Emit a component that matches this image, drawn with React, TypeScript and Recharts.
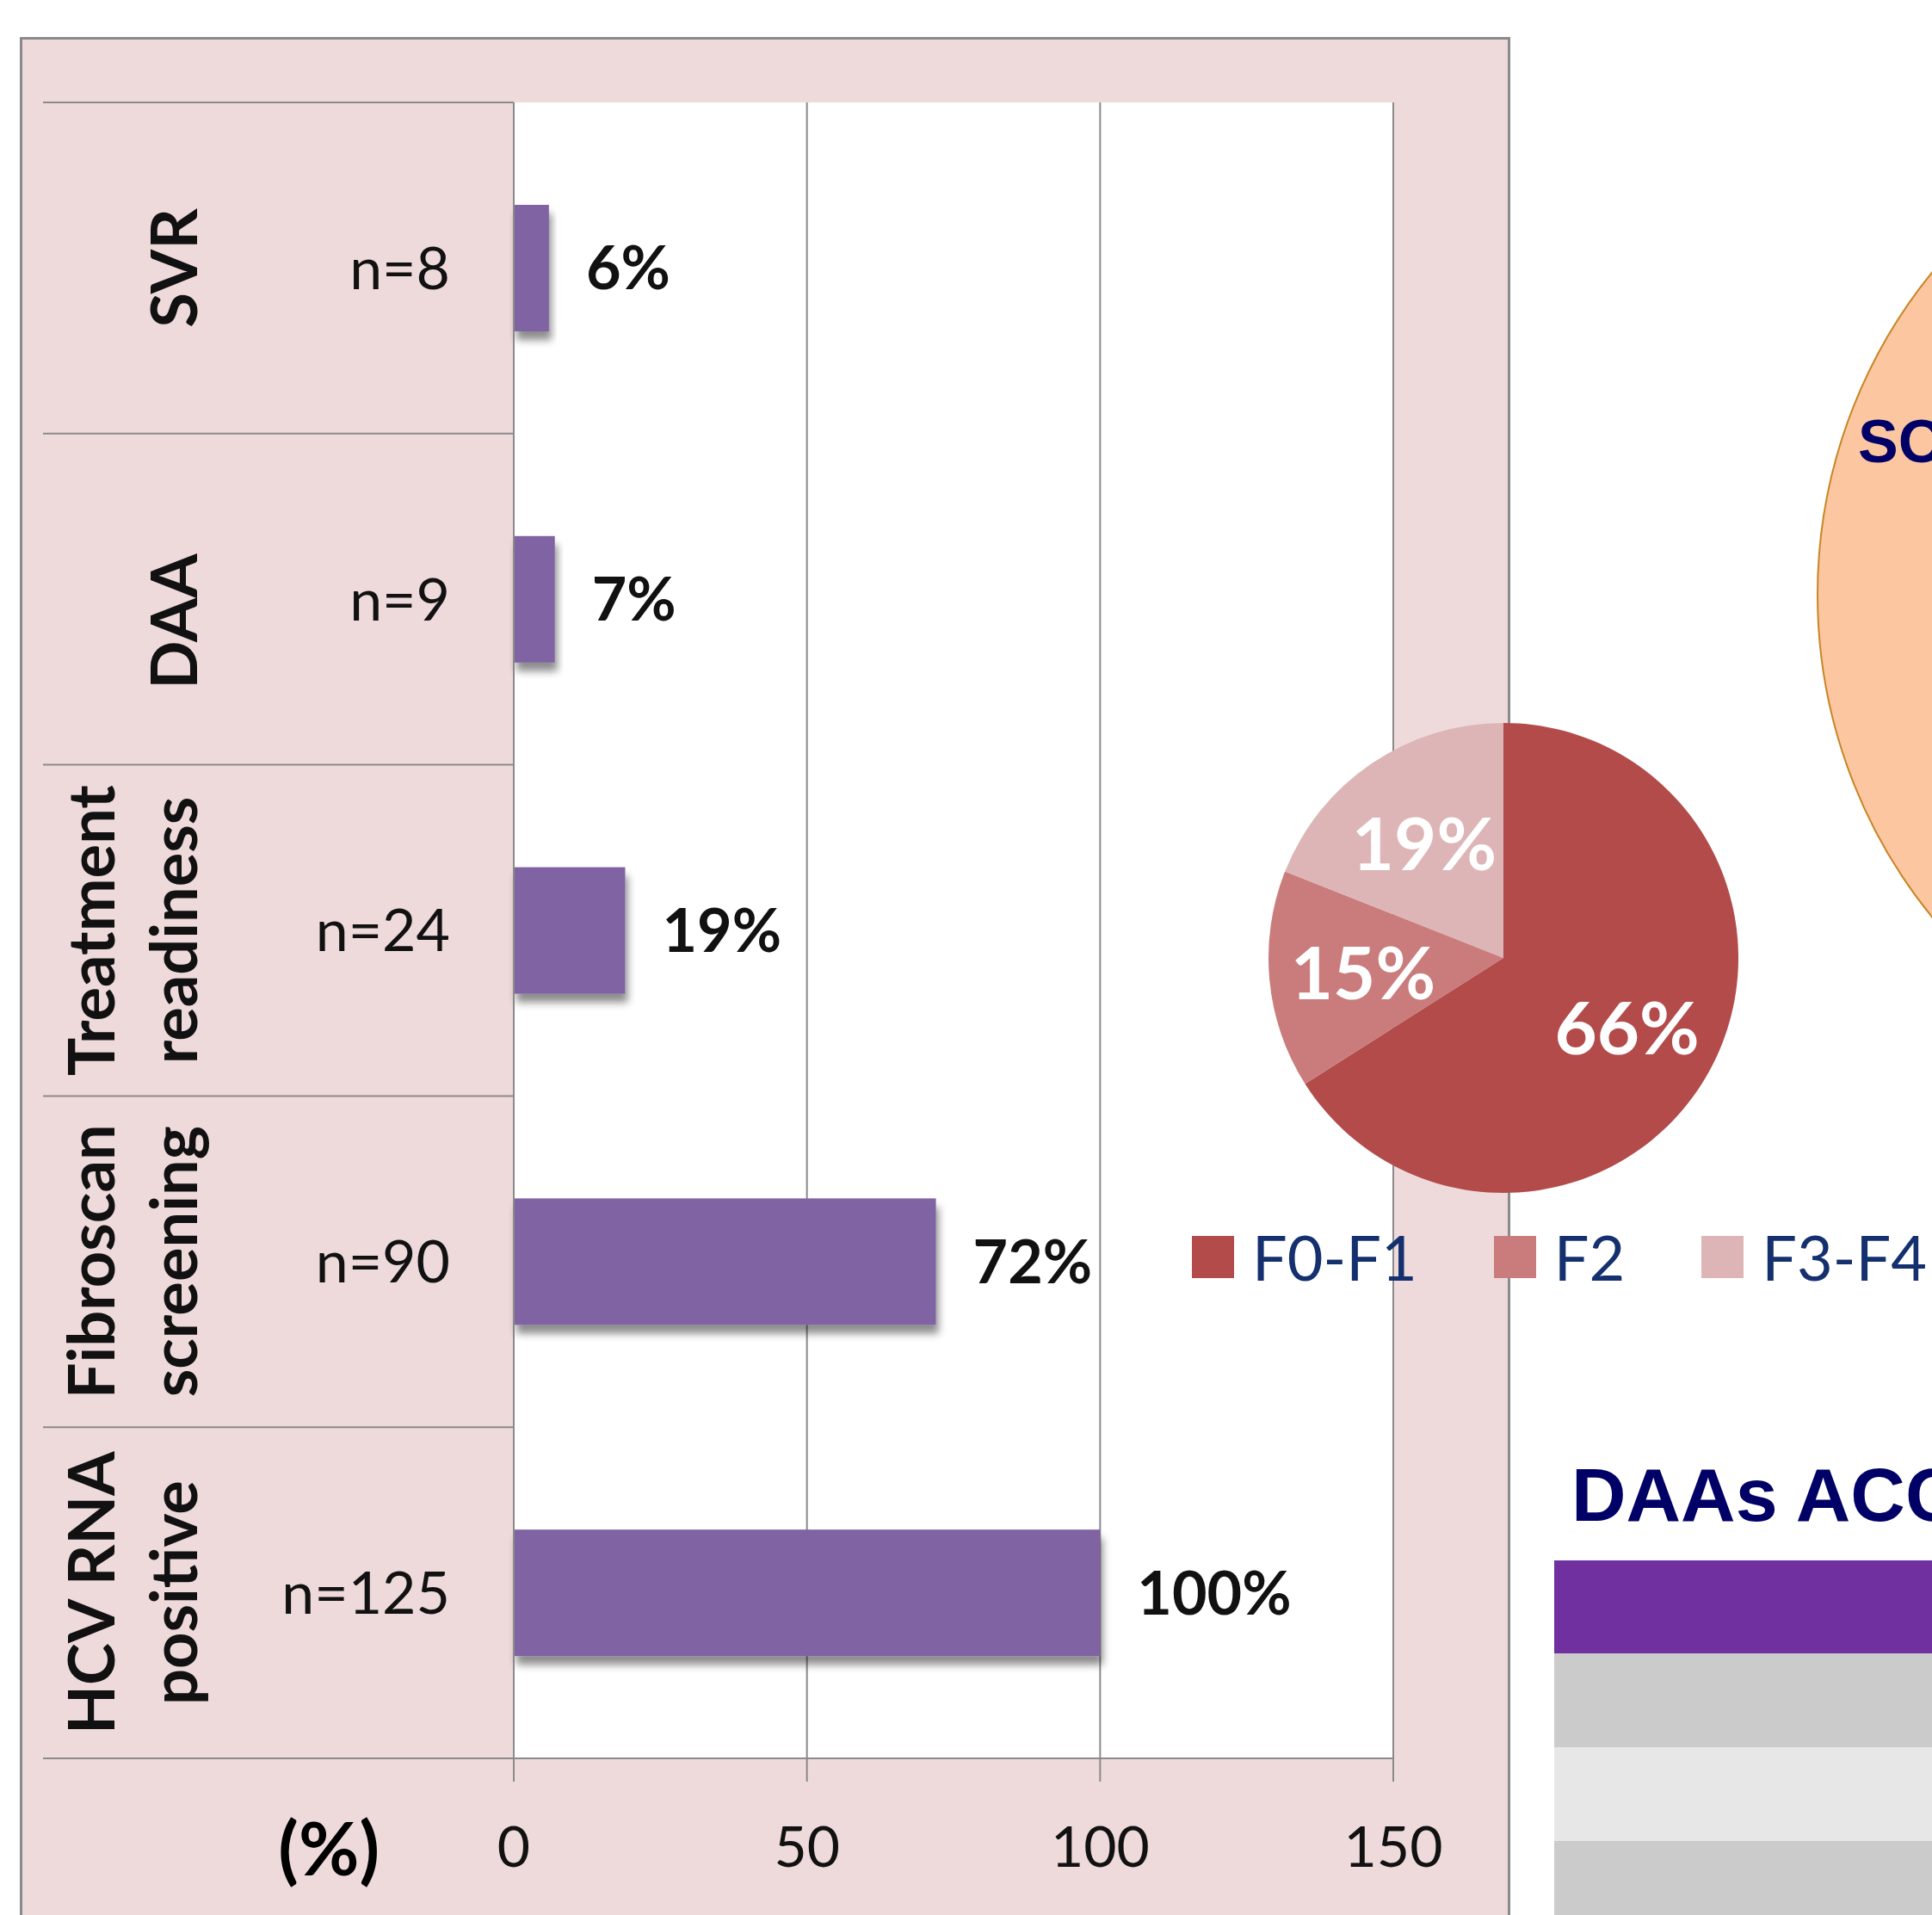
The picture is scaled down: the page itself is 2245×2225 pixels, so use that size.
import {
	Bar,
	BarChart,
	CartesianGrid,
	Cell,
	LabelList,
	Legend,
	Pie,
	PieChart,
	XAxis,
	YAxis,
} from "recharts";

// cascade of care, top to bottom
const stages = ["SVR", "DAA   ", "Treatment\nreadiness", "Fibroscan\nscreening", "HCV RNA\npositive"];
const counts = [8, 9, 24, 90, 125];
const percents = [6, 7, 19, 72, 100];
const xTicks = [0, 50, 100, 150];

// fibrosis split among screened patients
const fibrosisStages = ["F0-F1", "F2", "F3-F4"];
const fibrosisShares = [66, 15, 19];
const fibrosisColors = ["#B24B4A", "#C97C7B", "#DDB5B6"];

const rows = stages.map((name, i) => ({ name, n: counts[i], pct: percents[i] }));
const pieRows = fibrosisStages.map((name, i) => ({ name, value: fibrosisShares[i] }));

const FONT = "Lato, 'Open Sans', sans-serif";
const LINE = "#8A8A8A";
const PLOT_TOP = 119;
const PLOT_BOTTOM = 2043;
const TABLE_LEFT = 50;
const AXIS_X = 597;
const band = (PLOT_BOTTOM - PLOT_TOP) / stages.length;

function StageTick(props: any) {
	const { y, payload } = props;
	const idx = stages.indexOf(payload.value);
	const lines = String(payload.value).split("\n");
	const top = y - band / 2;
	return (
		<g>
			<line x1={TABLE_LEFT} x2={AXIS_X} y1={top} y2={top} stroke={LINE} strokeWidth={2} />
			{idx === stages.length - 1 && (
				<line x1={TABLE_LEFT} x2={AXIS_X} y1={y + band / 2} y2={y + band / 2} stroke={LINE} strokeWidth={2} />
			)}
			{lines.map((line, i) => {
				const bx = 229 - (lines.length - 1 - i) * 96;
				return (
					<text
						key={line}
						x={bx}
						y={y}
						transform={`rotate(-90 ${bx} ${y})`}
						textAnchor="middle"
						fontFamily={FONT}
						fontWeight={700}
						fontSize={74}
						fill="#111"
						style={{ whiteSpace: "pre" }}
					>
						{line}
					</text>
				);
			})}
			<text x={523} y={y} dy="0.36em" textAnchor="end" fontFamily={FONT} fontSize={68} fill="#111">
				n={counts[idx]}
			</text>
		</g>
	);
}

function ShadowBar(props: any) {
	const { x, y, width, height, fill } = props;
	return <rect x={x} y={y} width={width} height={height} fill={fill} filter="url(#barShadow)" />;
}

const RADIAN = Math.PI / 180;
function sliceLabel(props: any) {
	const { cx, cy, midAngle, outerRadius, value } = props;
	const r = outerRadius * 0.6;
	const x = cx + r * Math.cos(-midAngle * RADIAN);
	const y = cy + r * Math.sin(-midAngle * RADIAN);
	return (
		<text
			x={x}
			y={y}
			textAnchor="middle"
			dominantBaseline="central"
			fill="#fff"
			fontFamily={FONT}
			fontWeight={700}
			fontSize={85}
		>
			{`${value}%`}
		</text>
	);
}

function FibrosisLegend({ payload }: any) {
	return (
		<div style={{ display: "flex", alignItems: "center" }}>
			{(payload || []).map((entry: any) => (
				<div key={entry.value} style={{ display: "flex", alignItems: "center", marginRight: 89 }}>
					<div style={{ width: 49, height: 49, background: entry.color }} />
					<span
						style={{
							marginLeft: 21,
							fontSize: 72,
							lineHeight: 1,
							color: "#14306E",
							fontFamily: FONT,
							whiteSpace: "nowrap",
						}}
					>
						{entry.value}
					</span>
				</div>
			))}
		</div>
	);
}

export default function App() {
	return (
		<div
			style={{
				position: "absolute",
				left: 0,
				top: 0,
				width: 2245,
				height: 2225,
				overflow: "hidden",
				background: "#fff",
				fontFamily: FONT,
			}}
		>
			{/* pink panel frame */}
			<div
				style={{
					position: "absolute",
					left: 23,
					top: 43,
					width: 1732,
					height: 2300,
					background: "#EFDADB",
					border: `3px solid ${LINE}`,
					boxSizing: "border-box",
				}}
			/>

			{/* neighbouring slide content on the right */}
			<div
				style={{
					position: "absolute",
					left: 2111,
					top: 97,
					width: 1188,
					height: 1188,
					borderRadius: "50%",
					background: "#FCC6A0",
					border: "2px solid #C98526",
					boxSizing: "border-box",
				}}
			/>
			<div
				style={{
					position: "absolute",
					left: 2159,
					top: 478,
					fontFamily: "'Liberation Sans', Arial, sans-serif",
					fontWeight: 700,
					fontSize: 70,
					lineHeight: 1,
					color: "#000066",
					whiteSpace: "nowrap",
				}}
			>
				SO
			</div>
			<div
				style={{
					position: "absolute",
					left: 1826,
					top: 1693,
					fontFamily: "'Liberation Sans', Arial, sans-serif",
					fontWeight: 700,
					fontSize: 88,
					lineHeight: 1,
					color: "#000066",
					whiteSpace: "nowrap",
				}}
			>
				DAAs ACC
			</div>
			<div style={{ position: "absolute", left: 1806, top: 1813, width: 500, height: 108, background: "#7030A0" }} />
			<div style={{ position: "absolute", left: 1806, top: 1921, width: 500, height: 109, background: "#CBCBCB" }} />
			<div style={{ position: "absolute", left: 1806, top: 2030, width: 500, height: 109, background: "#E7E7E7" }} />
			<div style={{ position: "absolute", left: 1806, top: 2139, width: 500, height: 100, background: "#CBCBCB" }} />

			<div style={{ position: "absolute", left: 0, top: 0 }}>
				<BarChart
					width={1760}
					height={2225}
					data={rows}
					layout="vertical"
					margin={{ top: PLOT_TOP, right: 141, bottom: 52, left: TABLE_LEFT }}
				>
					<defs>
						<filter id="barShadow" x="-10%" y="-20%" width="130%" height="180%">
							<feDropShadow dx="3" dy="10" stdDeviation="5" floodColor="#000" floodOpacity="0.45" />
						</filter>
					</defs>
					<CartesianGrid horizontal={false} stroke={LINE} strokeWidth={2} fill="#ffffff" />
					<XAxis
						type="number"
						domain={[0, 150]}
						ticks={xTicks}
						height={130}
						tickSize={27}
						tickMargin={52}
						axisLine={{ stroke: LINE, strokeWidth: 2 }}
						tickLine={{ stroke: LINE, strokeWidth: 2 }}
						tick={{ fill: "#111", fontSize: 66, fontFamily: FONT }}
						label={{
							value: "(%)",
							position: "left",
							offset: 156,
							dy: 40,
							fill: "#000",
							fontSize: 86,
							fontWeight: 700,
							fontFamily: FONT,
						}}
					/>
					<YAxis
						type="category"
						dataKey="name"
						width={547}
						interval={0}
						axisLine={{ stroke: LINE, strokeWidth: 2 }}
						tickLine={false}
						tick={(p: any) => <StageTick {...p} />}
					/>
					<Bar dataKey="pct" fill="#8064A2" barSize={147} shape={ShadowBar} isAnimationActive={false}>
						<LabelList
							dataKey="pct"
							position="right"
							offset={43}
							formatter={(v: any) => `${v}%`}
							fill="#111"
							fontSize={70}
							fontWeight={700}
							fontFamily={FONT}
						/>
					</Bar>
				</BarChart>
			</div>

			<div style={{ position: "absolute", left: 1380, top: 800 }}>
				<PieChart width={865} height={720} margin={{ top: 0, right: 0, bottom: 0, left: 0 }}>
					<Pie
						data={pieRows}
						dataKey="value"
						nameKey="name"
						cx={367}
						cy={313}
						outerRadius={273}
						startAngle={90}
						endAngle={-270}
						stroke="none"
						labelLine={false}
						label={sliceLabel}
						isAnimationActive={false}
					>
						{pieRows.map((row, i) => (
							<Cell key={row.name} fill={fibrosisColors[i]} />
						))}
					</Pie>
					<Legend
						verticalAlign="bottom"
						align="left"
						content={FibrosisLegend}
						wrapperStyle={{ left: 5, top: 624, bottom: "auto", width: 860 }}
					/>
				</PieChart>
			</div>
		</div>
	);
}
